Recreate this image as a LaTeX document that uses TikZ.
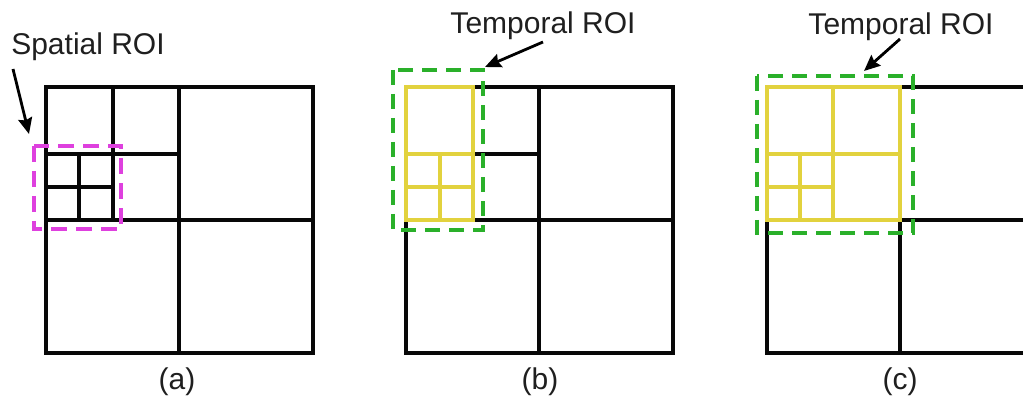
\documentclass[tikz,border=0pt]{standalone}
\usepackage{fontspec}
\setmainfont{Liberation Sans}
\usetikzlibrary{arrows.meta}

\definecolor{gridblack}{RGB}{8,8,8}
\definecolor{roiyellow}{RGB}{226,210,62}
\definecolor{roigreen}{RGB}{42,176,42}
\definecolor{roimagenta}{RGB}{222,64,222}

\tikzset{
  cell/.style={draw=gridblack, line width=3.6pt, line cap=rect},
  tcell/.style={draw=roiyellow, line width=3.6pt, line cap=rect},
  spatialbox/.style={draw=roimagenta, line width=3.6pt, dash pattern=on 16pt off 9pt},
  temporalbox/.style={draw=roigreen, line width=3.6pt, dash pattern=on 15pt off 9pt},
  pointer/.style={draw=black, line width=2.8pt, -{Stealth[length=16pt,width=14pt,inset=2pt]}},
  caption/.style={font=\fontsize{30}{36}\selectfont, text=black!88, anchor=base, inner sep=0pt},
}

\begin{document}
\begin{tikzpicture}[x=1pt,y=-1pt]
  \clip (0,0) rectangle (1023,403);
  \fill[white] (0,0) rectangle (1023,403);

  % ---------- (a) spatial subdivision ----------
  \draw[cell] (46,87) rectangle (313,353);
  \draw[cell] (179,87) -- (179,353);
  \draw[cell] (46,220) -- (313,220);
  \draw[cell] (113,87) -- (113,220);
  \draw[cell] (46,154) -- (179,154);
  \draw[cell] (79,154) -- (79,220);
  \draw[cell] (46,187) -- (113,187);
  \draw[spatialbox] (34,146) rectangle (121,229);

  \node[caption] (spatial) at (88,55) {Spatial ROI};
  \coordinate (sfrom) at (13,69);
  \coordinate (sto) at (29,134);
  \draw[pointer] (sfrom) -- (sto);
  \node[caption] (capa) at (177,389) {(a)};

  % ---------- (b) temporal ROI, one column ----------
  \draw[cell] (473,87) -- (673,87) -- (673,353) -- (406,353) -- (406,220);
  \draw[cell] (539,87) -- (539,353);
  \draw[cell] (473,220) -- (673,220);
  \draw[cell] (473,154) -- (539,154);
  \draw[tcell] (406,87) rectangle (473,220);
  \draw[tcell] (406,154) -- (473,154);
  \draw[tcell] (406,187) -- (473,187);
  \draw[tcell] (440,154) -- (440,220);
  \draw[temporalbox] (393,70) rectangle (483,230);

  \node[caption] (temporalb) at (543,34) {Temporal ROI};
  \coordinate (bfrom) at (543,42);
  \coordinate (bto) at (485,67);
  \draw[pointer] (bfrom) -- (bto);
  \node[caption] (capb) at (540,389) {(b)};

  % ---------- (c) temporal ROI, whole quadrant ----------
  \draw[cell] (900,87) -- (1040,87) -- (1040,353) -- (767,353) -- (767,220);
  \draw[cell] (900,220) -- (1040,220);
  \draw[cell] (900,220) -- (900,353);
  \draw[tcell] (767,87) rectangle (900,220);
  \draw[tcell] (833,87) -- (833,220);
  \draw[tcell] (767,154) -- (900,154);
  \draw[tcell] (800,154) -- (800,220);
  \draw[tcell] (767,187) -- (833,187);
  \draw[temporalbox] (757,76) rectangle (913,233);

  \node[caption] (temporalc) at (901,35) {Temporal ROI};
  \coordinate (cfrom) at (900,39);
  \coordinate (cto) at (864,71);
  \draw[pointer] (cfrom) -- (cto);
  \node[caption] (capc) at (900,389) {(c)};
\end{tikzpicture}
\end{document}
